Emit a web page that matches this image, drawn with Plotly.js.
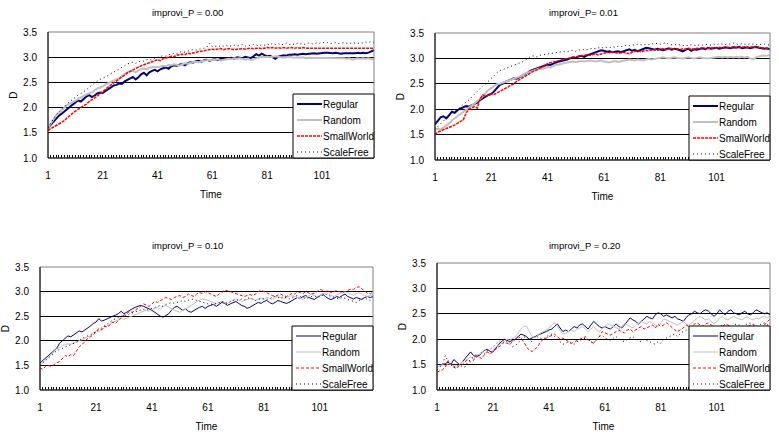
<!DOCTYPE html>
<html>
<head>
<meta charset="utf-8">
<script src="https://cdn.plot.ly/plotly-3.0.1.min.js"></script>
<style>html,body{margin:0;padding:0;background:#fff;}#chart{width:779px;height:437px;}</style>
</head>
<body>
<div id="chart"></div>
<script>
// Time categories 1..120
const time = Array.from({length: 120}, (_, i) => i + 1);
const seriesNames = ["Regular", "Random", "SmallWorld", "ScaleFree"];
const panelTitles = ["improvi_P = 0.00", "improvi_P= 0.01", "improvi_P = 0.10", "improvi_P = 0.20"];
const tickLabels = ["1", "21", "41", "61", "81", "101"];

// improvi_P = 0.00
const p00_regular = [1.60,1.66,1.72,1.79,1.84,1.88,1.93,1.98,2.02,2.06,2.10,2.14,2.12,2.18,2.22,2.25,2.21,2.24,2.28,2.30,
2.29,2.33,2.36,2.40,2.44,2.45,2.48,2.47,2.52,2.55,2.58,2.61,2.56,2.60,2.66,2.69,2.64,2.70,2.73,2.75,
2.72,2.76,2.78,2.80,2.77,2.82,2.84,2.83,2.85,2.87,2.84,2.88,2.90,2.89,2.92,2.93,2.91,2.94,2.95,2.93,
2.95,2.96,2.94,2.97,2.98,2.96,2.98,2.99,2.97,3.00,2.99,2.98,3.01,3.00,2.98,3.02,3.06,3.03,3.07,3.04,
3.02,3.03,3.00,2.97,3.01,3.03,3.04,3.03,3.05,3.05,3.06,3.05,3.06,3.07,3.06,3.07,3.07,3.08,3.07,3.08,
3.08,3.09,3.09,3.08,3.08,3.09,3.08,3.07,3.08,3.08,3.07,3.08,3.08,3.09,3.08,3.09,3.08,3.09,3.11,3.14];
const p00_random = [1.60,1.68,1.76,1.85,1.90,1.96,2.00,2.05,2.08,2.12,2.15,2.18,2.20,2.23,2.26,2.28,2.30,2.34,2.38,2.40,
2.42,2.46,2.48,2.51,2.54,2.56,2.58,2.62,2.66,2.70,2.72,2.73,2.70,2.74,2.76,2.78,2.76,2.79,2.80,2.81,
2.80,2.82,2.83,2.82,2.85,2.84,2.86,2.85,2.83,2.86,2.88,2.87,2.89,2.90,2.91,2.90,2.92,2.93,2.94,2.95,
2.94,2.95,2.96,2.93,2.95,2.96,2.97,2.96,2.98,2.97,2.98,2.96,2.95,2.97,2.94,2.96,2.98,3.00,3.01,3.00,
3.01,3.00,3.01,3.02,3.01,3.00,2.99,3.00,3.01,3.00,2.99,3.00,2.99,3.00,2.98,2.99,2.99,2.98,2.99,2.98,
2.98,2.99,2.98,2.98,2.99,2.98,2.98,2.99,2.98,2.97,2.98,2.95,2.97,2.98,2.97,2.98,2.97,2.98,2.96,2.97];
const p00_smallworld = [1.55,1.58,1.61,1.64,1.67,1.70,1.74,1.80,1.85,1.90,1.93,1.97,2.00,2.03,2.07,2.12,2.15,2.19,2.23,2.27,
2.31,2.36,2.41,2.45,2.50,2.53,2.57,2.61,2.65,2.69,2.72,2.75,2.78,2.80,2.83,2.85,2.87,2.89,2.92,2.94,
2.95,2.93,2.97,2.98,3.00,3.02,3.01,3.04,3.05,3.06,3.05,3.08,3.07,3.09,3.10,3.11,3.12,3.13,3.14,3.15,
3.16,3.15,3.16,3.17,3.15,3.16,3.17,3.16,3.15,3.16,3.17,3.17,3.16,3.17,3.18,3.17,3.18,3.18,3.17,3.18,
3.19,3.18,3.19,3.18,3.19,3.18,3.19,3.18,3.19,3.19,3.18,3.19,3.18,3.19,3.18,3.18,3.19,3.18,3.19,3.18,
3.19,3.18,3.18,3.19,3.18,3.19,3.18,3.18,3.19,3.18,3.19,3.18,3.18,3.19,3.18,3.18,3.19,3.18,3.19,3.18];
const p00_scalefree = [1.60,1.70,1.78,1.86,1.92,1.97,2.03,2.08,2.12,2.17,2.20,2.25,2.28,2.31,2.35,2.40,2.45,2.49,2.53,2.56,
2.58,2.61,2.64,2.67,2.70,2.73,2.76,2.79,2.83,2.87,2.89,2.90,2.88,2.91,2.93,2.92,2.95,2.96,2.94,2.98,
3.00,3.01,3.03,3.02,3.05,3.06,3.08,3.07,3.10,3.11,3.10,3.12,3.13,3.15,3.14,3.16,3.17,3.18,3.20,3.28,
3.21,3.22,3.20,3.23,3.22,3.24,3.21,3.23,3.24,3.22,3.23,3.25,3.22,3.24,3.23,3.25,3.24,3.22,3.25,3.24,
3.26,3.24,3.28,3.25,3.27,3.24,3.26,3.28,3.25,3.27,3.25,3.28,3.26,3.27,3.25,3.28,3.27,3.26,3.28,3.27,
3.30,3.28,3.29,3.27,3.28,3.29,3.27,3.28,3.29,3.28,3.27,3.29,3.28,3.27,3.29,3.28,3.30,3.29,3.31,3.28];

// improvi_P = 0.01
const p01_regular = [1.70,1.76,1.84,1.86,1.82,1.88,1.95,1.93,1.98,2.01,2.04,2.06,2.05,2.08,2.10,2.13,2.18,2.22,2.25,2.28,
2.30,2.35,2.42,2.48,2.50,2.54,2.56,2.58,2.61,2.60,2.63,2.66,2.68,2.72,2.76,2.78,2.80,2.82,2.84,2.86,
2.88,2.87,2.90,2.92,2.94,2.95,2.97,2.98,3.00,3.02,3.01,3.04,3.05,3.03,3.06,3.08,3.10,3.12,3.14,3.16,
3.15,3.13,3.14,3.12,3.13,3.14,3.12,3.14,3.16,3.18,3.15,3.17,3.14,3.16,3.19,3.21,3.20,3.18,3.17,3.19,
3.18,3.16,3.18,3.20,3.17,3.19,3.18,3.16,3.14,3.17,3.19,3.15,3.18,3.17,3.19,3.20,3.18,3.21,3.19,3.20,
3.21,3.19,3.20,3.22,3.21,3.20,3.22,3.21,3.23,3.20,3.21,3.22,3.20,3.21,3.23,3.21,3.20,3.19,3.20,3.18];
const p01_random = [1.60,1.62,1.60,1.64,1.68,1.72,1.78,1.82,1.86,1.90,1.95,1.99,2.03,2.07,2.11,2.16,2.20,2.26,2.33,2.38,
2.42,2.46,2.49,2.50,2.52,2.55,2.57,2.58,2.60,2.62,2.64,2.66,2.70,2.72,2.74,2.76,2.78,2.80,2.79,2.81,
2.83,2.82,2.85,2.87,2.88,2.90,2.91,2.92,2.93,2.94,2.93,2.94,2.95,2.94,2.95,2.96,2.95,2.94,2.95,2.96,
2.94,2.93,2.92,2.94,2.95,2.93,2.94,2.96,2.97,2.98,2.97,2.96,2.98,2.97,2.96,2.98,2.99,2.98,2.99,3.00,
3.01,3.02,3.01,3.00,3.01,3.02,3.01,3.00,3.00,3.01,3.02,3.01,3.00,3.01,3.02,3.01,3.00,3.00,3.01,3.02,
3.02,3.03,3.02,3.03,3.02,3.03,3.02,3.03,3.02,3.03,3.02,3.03,3.00,2.98,3.02,3.04,3.05,3.05,3.06,3.06];
const p01_smallworld = [1.50,1.55,1.57,1.60,1.62,1.64,1.66,1.69,1.72,1.76,1.78,1.92,2.00,2.03,2.05,2.02,2.20,2.28,2.25,2.28,
2.30,2.29,2.32,2.35,2.38,2.40,2.43,2.46,2.50,2.55,2.58,2.62,2.65,2.68,2.72,2.74,2.77,2.80,2.83,2.85,
2.90,2.92,2.93,2.94,2.96,2.98,2.99,3.00,3.01,3.02,3.03,3.04,3.05,3.06,3.07,3.06,3.08,3.09,3.07,3.08,
3.10,3.12,3.11,3.13,3.12,3.10,3.11,3.12,3.10,3.09,3.12,3.14,3.15,3.13,3.14,3.16,3.15,3.17,3.18,3.16,
3.18,3.19,3.17,3.18,3.20,3.18,3.19,3.17,3.19,3.18,3.20,3.19,3.18,3.20,3.19,3.21,3.20,3.19,3.21,3.20,
3.20,3.22,3.21,3.20,3.22,3.21,3.23,3.22,3.21,3.22,3.23,3.21,3.22,3.23,3.21,3.22,3.20,3.21,3.19,3.18];
const p01_scalefree = [1.60,1.66,1.72,1.78,1.83,1.88,1.92,1.97,2.00,2.05,2.10,2.14,2.18,2.24,2.30,2.36,2.42,2.46,2.50,2.55,
2.60,2.66,2.72,2.76,2.78,2.80,2.82,2.84,2.86,2.88,2.90,2.93,2.96,3.00,3.04,3.05,3.03,3.06,3.07,3.08,
3.09,3.10,3.11,3.12,3.13,3.14,3.14,3.13,3.15,3.16,3.14,3.17,3.16,3.18,3.17,3.19,3.20,3.19,3.21,3.22,
3.20,3.22,3.21,3.23,3.22,3.24,3.23,3.25,3.26,3.25,3.27,3.26,3.28,3.27,3.26,3.28,3.27,3.29,3.28,3.30,
3.28,3.29,3.31,3.28,3.27,3.26,3.28,3.27,3.25,3.26,3.25,3.27,3.26,3.25,3.27,3.26,3.28,3.27,3.26,3.28,
3.27,3.29,3.28,3.27,3.29,3.28,3.30,3.28,3.27,3.29,3.28,3.27,3.29,3.28,3.27,3.28,3.27,3.28,3.27,3.26];

// improvi_P = 0.10
const p10_regular = [1.55,1.60,1.65,1.70,1.75,1.80,1.85,1.95,2.00,2.05,2.10,2.08,2.12,2.15,2.20,2.18,2.22,2.25,2.30,2.35,
2.38,2.45,2.40,2.42,2.45,2.48,2.50,2.52,2.55,2.60,2.55,2.58,2.62,2.65,2.68,2.70,2.72,2.70,2.68,2.65,
2.62,2.58,2.55,2.50,2.48,2.52,2.55,2.62,2.68,2.70,2.66,2.62,2.65,2.60,2.58,2.62,2.65,2.68,2.70,2.66,
2.70,2.72,2.74,2.70,2.75,2.78,2.76,2.72,2.75,2.78,2.80,2.76,2.72,2.70,2.66,2.68,2.72,2.75,2.78,2.76,
2.80,2.82,2.78,2.75,2.78,2.82,2.80,2.78,2.76,2.78,2.82,2.85,2.88,2.86,2.90,2.92,2.88,2.86,2.84,2.88,
2.92,2.95,2.90,2.86,2.84,2.86,2.90,2.88,2.92,2.95,2.90,2.88,2.85,2.88,2.86,2.84,2.88,2.90,2.88,2.90];
const p10_random = [1.50,1.55,1.60,1.65,1.72,1.78,1.84,1.86,1.90,1.92,1.94,1.93,1.96,1.98,2.00,2.02,2.05,2.08,2.10,2.15,
2.20,2.18,2.22,2.26,2.30,2.34,2.38,2.40,2.42,2.45,2.44,2.46,2.48,2.50,2.52,2.55,2.58,2.60,2.62,2.60,
2.64,2.66,2.68,2.65,2.70,2.72,2.68,2.65,2.62,2.60,2.58,2.62,2.65,2.68,2.72,2.75,2.80,2.82,2.85,2.84,
2.82,2.80,2.78,2.76,2.78,2.80,2.78,2.76,2.80,2.82,2.85,2.83,2.80,2.82,2.84,2.86,2.85,2.82,2.85,2.87,
2.85,2.88,2.86,2.84,2.88,2.90,2.88,2.86,2.88,2.90,2.92,2.90,2.88,2.86,2.84,2.88,2.92,2.95,2.92,2.90,
2.92,2.95,2.98,2.95,2.92,2.90,2.93,2.96,2.98,3.00,2.97,2.95,2.93,2.96,2.98,2.95,2.92,2.90,2.92,2.94];
const p10_smallworld = [1.45,1.42,1.48,1.50,1.48,1.52,1.55,1.58,1.65,1.70,1.68,1.72,1.70,1.80,1.88,1.92,1.98,2.05,2.08,2.12,
2.18,2.25,2.22,2.30,2.28,2.32,2.38,2.35,2.42,2.48,2.52,2.55,2.60,2.58,2.62,2.65,2.70,2.75,2.72,2.70,
2.75,2.80,2.78,2.82,2.85,2.88,2.86,2.84,2.88,2.90,2.92,2.88,2.90,2.95,2.92,2.90,2.95,2.98,2.96,3.00,
2.98,2.95,2.92,2.90,2.95,2.98,3.03,3.02,3.00,2.98,2.96,2.95,2.92,2.90,2.92,2.94,2.92,2.95,3.00,3.03,
3.00,2.98,2.95,2.92,2.90,2.93,2.95,2.92,2.90,2.93,2.96,2.95,3.00,2.98,2.96,3.00,2.98,2.95,2.97,3.00,
3.05,3.02,3.00,3.02,2.98,3.00,3.02,3.00,2.98,3.00,3.03,3.05,3.04,3.08,3.10,3.05,3.02,2.97,2.95,3.00];
const p10_scalefree = [1.50,1.55,1.60,1.65,1.70,1.75,1.80,1.82,1.85,1.88,1.90,1.92,1.95,1.98,2.00,2.05,2.08,2.10,2.12,2.15,
2.18,2.22,2.26,2.30,2.35,2.38,2.42,2.45,2.48,2.50,2.52,2.50,2.55,2.57,2.58,2.60,2.62,2.64,2.62,2.65,
2.66,2.68,2.70,2.72,2.70,2.74,2.76,2.78,2.76,2.78,2.80,2.82,2.80,2.83,2.85,2.84,2.82,2.80,2.78,2.76,
2.75,2.74,2.76,2.75,2.78,2.80,2.78,2.76,2.80,2.82,2.84,2.82,2.85,2.83,2.86,2.88,2.85,2.82,2.84,2.86,
2.85,2.84,2.86,2.88,2.90,2.88,2.86,2.90,2.88,2.85,2.88,2.90,2.92,2.90,2.88,2.86,2.88,2.90,2.92,2.88,
2.90,2.92,2.95,2.92,2.90,2.88,2.86,2.85,2.88,2.86,2.84,2.82,2.80,2.78,2.82,2.85,2.88,2.84,2.82,2.86];

// improvi_P = 0.20
const p20_regular = [1.50,1.50,1.50,1.52,1.55,1.50,1.60,1.55,1.50,1.55,1.62,1.70,1.75,1.68,1.65,1.68,1.72,1.78,1.80,1.76,
1.75,1.82,1.90,1.95,2.00,1.98,1.95,1.98,2.00,2.05,2.10,2.08,2.05,2.00,2.02,2.05,2.08,2.10,2.12,2.15,
2.18,2.20,2.25,2.30,2.22,2.15,2.18,2.15,2.20,2.25,2.22,2.28,2.30,2.25,2.20,2.28,2.35,2.30,2.25,2.22,
2.25,2.22,2.20,2.25,2.30,2.25,2.22,2.28,2.35,2.42,2.38,2.35,2.30,2.35,2.40,2.45,2.42,2.40,2.48,2.52,
2.50,2.45,2.48,2.45,2.42,2.45,2.40,2.38,2.35,2.42,2.48,2.50,2.55,2.52,2.50,2.55,2.58,2.55,2.50,2.45,
2.50,2.58,2.52,2.48,2.55,2.58,2.52,2.50,2.48,2.52,2.55,2.50,2.48,2.52,2.58,2.55,2.52,2.50,2.52,2.48];
const p20_random = [1.45,1.48,1.50,1.48,1.52,1.50,1.48,1.45,1.50,1.55,1.58,1.62,1.65,1.62,1.68,1.70,1.72,1.80,1.75,1.70,
1.78,1.85,1.88,1.92,1.95,2.00,1.98,2.02,2.05,2.12,2.20,2.25,2.26,2.15,2.05,2.03,2.08,2.12,2.15,2.18,
2.22,2.28,2.33,2.25,2.18,2.10,2.12,2.15,2.18,2.15,2.20,2.22,2.25,2.20,2.15,2.20,2.25,2.18,2.15,2.20,
2.25,2.30,2.28,2.25,2.22,2.20,2.25,2.30,2.28,2.25,2.22,2.28,2.32,2.35,2.32,2.30,2.35,2.32,2.28,2.25,
2.32,2.40,2.38,2.35,2.32,2.30,2.28,2.32,2.35,2.30,2.28,2.32,2.38,2.42,2.45,2.42,2.38,2.40,2.35,2.30,
2.35,2.42,2.45,2.40,2.38,2.42,2.45,2.42,2.40,2.38,2.42,2.44,2.40,2.38,2.42,2.40,2.43,2.45,2.42,2.45];
const p20_smallworld = [1.35,1.38,1.40,1.45,1.58,1.50,1.45,1.42,1.48,1.50,1.55,1.60,1.55,1.58,1.68,1.65,1.62,1.70,1.75,1.72,
1.75,1.80,1.85,1.88,1.95,1.92,1.90,1.95,2.00,2.05,2.02,1.95,1.85,1.78,1.76,1.80,1.85,1.95,2.00,2.02,
2.05,2.08,2.10,2.05,2.00,2.02,1.98,1.95,1.92,1.95,1.98,2.00,2.02,2.05,2.00,1.95,1.92,1.98,2.05,2.15,
2.12,2.10,2.08,2.12,2.15,2.18,2.15,2.12,2.18,2.20,2.15,2.18,2.22,2.25,2.20,2.22,2.25,2.28,2.22,2.30,
2.25,2.28,2.32,2.28,2.22,2.18,2.15,2.18,2.22,2.28,2.25,2.22,2.30,2.32,2.28,2.25,2.30,2.32,2.28,2.25,
2.22,2.20,2.25,2.30,2.28,2.25,2.22,2.25,2.20,2.18,2.22,2.25,2.28,2.30,2.25,2.22,2.20,2.28,2.35,2.40];
const p20_scalefree = [1.40,1.45,1.50,1.68,1.55,1.50,1.45,1.48,1.50,1.46,1.45,1.55,1.60,1.65,1.70,1.68,1.75,1.72,1.78,1.80,
1.85,1.90,1.95,2.00,1.98,1.95,1.90,1.85,1.88,1.92,2.00,2.05,2.02,1.98,1.95,2.00,2.05,2.02,2.00,2.05,
2.08,2.10,2.05,2.00,1.95,1.90,1.92,1.95,1.92,1.90,1.95,1.98,2.00,2.02,1.98,1.95,1.92,2.00,2.05,2.08,
2.02,2.00,1.98,2.02,2.05,2.00,1.98,1.95,2.00,2.02,2.05,2.00,1.98,1.95,2.00,1.98,1.95,1.92,1.90,1.95,
1.92,2.00,2.02,2.05,2.08,2.10,2.05,2.12,2.15,2.18,2.20,2.15,2.18,2.22,2.20,2.18,2.22,2.25,2.22,2.20,
2.22,2.25,2.28,2.25,2.22,2.25,2.28,2.30,2.28,2.25,2.28,2.30,2.32,2.28,2.25,2.28,2.30,2.32,2.28,2.30];

const panelData = [
  [p00_regular, p00_random, p00_smallworld, p00_scalefree],
  [p01_regular, p01_random, p01_smallworld, p01_scalefree],
  [p10_regular, p10_random, p10_smallworld, p10_scalefree],
  [p20_regular, p20_random, p20_smallworld, p20_scalefree]
];

// ---------- layout geometry (pixels) ----------
const W = 779, H = 437;
const boxes = [ // [left, right, top, bottom]
  [48, 374, 32, 158],
  [435, 770, 33, 160],
  [40, 373, 267, 390],
  [437, 770, 263, 390]
];
const titlePos = [[187, 12], [583, 12], [187, 245], [584, 245]];
const FONT = "Liberation Sans, Arial, sans-serif";

const thick = [
  {color: "#000080", width: 2, dash: "solid"},
  {color: "#C0C0C0", width: 2, dash: "solid"},
  {color: "#FF0000", width: 1.5, dash: "3px,1px"},
  {color: "#000000", width: 1, dash: "1px,3px"}
];
const thin = [
  {color: "#000080", width: 1, dash: "solid"},
  {color: "#C0C0C0", width: 1, dash: "solid"},
  {color: "#FF0000", width: 1, dash: "3px,2px"},
  {color: "#000000", width: 1, dash: "1px,3px"}
];

const traces = [];
const layout = {
  width: W, height: H,
  margin: {l: 0, r: 0, t: 0, b: 0},
  paper_bgcolor: "#ffffff",
  plot_bgcolor: "#ffffff",
  font: {family: FONT, size: 10, color: "#000"},
  showlegend: false,
  annotations: [],
  shapes: []
};

const px = v => v / W;
const py = v => 1 - v / H;

for (let p = 0; p < 4; p++) {
  const [L, R, T, B] = boxes[p];
  const sfx = p === 0 ? "" : String(p + 1);
  const xa = "x" + sfx, ya = "y" + sfx;
  const styles = p < 2 ? thick : thin;
  for (let s = 0; s < 4; s++) {
    traces.push({
      type: "scatter", mode: "lines",
      x: time, y: panelData[p][s],
      name: seriesNames[s],
      xaxis: xa, yaxis: ya,
      line: Object.assign({shape: "linear"}, styles[s]),
      hoverinfo: "skip"
    });
  }
  layout["xaxis" + sfx] = {
    domain: [px(L), px(R)],
    anchor: ya,
    range: [1, 120],
    tickmode: "array",
    tickvals: [1, 21, 41, 61, 81, 101],
    ticktext: tickLabels,
    ticks: "inside", ticklen: 3, tickcolor: "#000", tickwidth: 1,
    minor: {dtick: 1, tick0: 1, ticks: "inside", ticklen: 3, tickcolor: "#000", tickwidth: 1, showgrid: false},
    showgrid: false, zeroline: false, showline: false,
    ticklabelstandoff: 10,
    tickfont: {family: FONT, size: 10, color: "#000"},
    title: {text: "Time", font: {family: FONT, size: 10, color: "#000"}, standoff: 10},
    fixedrange: true
  };
  layout["yaxis" + sfx] = {
    domain: [py(B), py(T)],
    anchor: xa,
    range: [1, 3.5],
    tickmode: "linear", tick0: 1, dtick: 0.5,
    tickformat: ".1f",
    ticks: "",
    showgrid: true, gridcolor: "#000", gridwidth: 1,
    zeroline: false, showline: false,
    ticklabelstandoff: 10,
    tickfont: {family: FONT, size: 10, color: "#000"},
    title: {text: "D", font: {family: FONT, size: 10, color: "#000"}, standoff: 3},
    fixedrange: true
  };
  // plot-area border: grey frame, black left & bottom axis lines
  layout.shapes.push({type: "rect", xref: xa + " domain", yref: ya + " domain", x0: 0, x1: 1, y0: 0, y1: 1,
    line: {color: "#808080", width: 1}, layer: "above"});
  layout.shapes.push({type: "line", xref: xa + " domain", yref: ya + " domain", x0: 0, x1: 0, y0: 0, y1: 1,
    line: {color: "#000", width: 1}, layer: "above"});
  layout.shapes.push({type: "line", xref: xa + " domain", yref: ya + " domain", x0: 0, x1: 1, y0: 0, y1: 0,
    line: {color: "#000", width: 1}, layer: "above"});
  // subplot title
  layout.annotations.push({
    text: panelTitles[p], xref: "paper", yref: "paper",
    x: px(titlePos[p][0]), y: py(titlePos[p][1]),
    xanchor: "center", yanchor: "middle", showarrow: false,
    font: {family: FONT, size: 9.5, color: "#000"}
  });
  // legend box (Excel style, inside the plot area, bottom-right)
  const BL = R - 81, BT = B - 64;
  layout.shapes.push({type: "rect", xref: "paper", yref: "paper",
    x0: px(BL), x1: px(R), y0: py(B), y1: py(BT),
    fillcolor: "#ffffff", line: {color: "#000", width: 1}, layer: "above"});
  const rowY = [B - 54, B - 38, B - 22, B - 6];
  for (let s = 0; s < 4; s++) {
    layout.shapes.push({type: "line", xref: "paper", yref: "paper",
      x0: px(BL + 4), x1: px(BL + 29), y0: py(rowY[s]), y1: py(rowY[s]),
      line: {color: styles[s].color, width: styles[s].width, dash: styles[s].dash}, layer: "above"});
    layout.annotations.push({
      text: seriesNames[s], xref: "paper", yref: "paper",
      x: px(BL + 28), y: py(rowY[s]),
      xanchor: "left", yanchor: "middle", showarrow: false,
      font: {family: FONT, size: 10, color: "#000"}
    });
  }
}

Plotly.newPlot("chart", traces, layout, {staticPlot: true, displayModeBar: false});
</script>
</body>
</html>
